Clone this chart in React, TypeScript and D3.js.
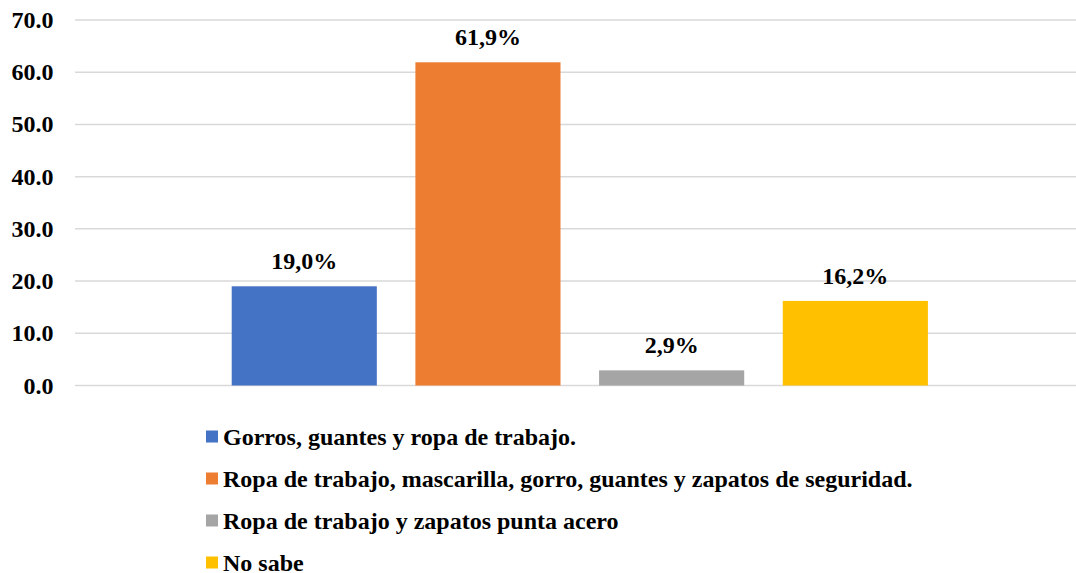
import React from "react";
import * as d3 from "d3";

const categories = [
  "Gorros, guantes y ropa de trabajo.",
  "Ropa de trabajo, mascarilla, gorro, guantes y zapatos de seguridad.",
  "Ropa de trabajo y zapatos punta acero",
  "No sabe",
];
const values = [19.0, 61.9, 2.9, 16.2];
const valueLabels = ["19,0%", "61,9%", "2,9%", "16,2%"];
const colors = ["#4472C4", "#ED7D31", "#A5A5A5", "#FFC000"];
const yTicks = [0, 10, 20, 30, 40, 50, 60, 70];

const W = 1076;
const H = 573;
const FONT = "'Liberation Serif', 'Times New Roman', Times, serif";
const FS = 24;

export default function App() {
  const y = d3.scaleLinear().domain([0, 70]).range([385.5, 20]);
  const x = d3
    .scaleBand<string>()
    .domain(categories)
    .range([231.7, 927.9])
    .paddingInner(0.21)
    .paddingOuter(0);
  const gridX0 = 75;
  const gridX1 = 1076;
  const legendY0 = 436.5;
  const legendStep = 42;

  return (
    <div style={{ position: "absolute", left: 0, top: 0, width: W, height: H }}>
      <svg width={W} height={H} style={{ display: "block", background: "#fff" }}>
        {yTicks.map((t) => (
          <g key={t}>
            <line x1={gridX0} x2={gridX1} y1={y(t)} y2={y(t)} stroke="#d9d9d9" strokeWidth={1.5} />
            <text
              x={53.5}
              y={y(t) + 8}
              textAnchor="end"
              fontFamily={FONT}
              fontWeight="bold"
              fontSize={FS}
              fill="#000"
            >
              {t.toFixed(1)}
            </text>
          </g>
        ))}
        {categories.map((c, i) => {
          const bx = x(c) as number;
          const bw = x.bandwidth();
          return (
            <g key={c}>
              <rect x={bx} y={y(values[i])} width={bw} height={y(0) - y(values[i])} fill={colors[i]} />
              <text
                x={bx + bw / 2}
                y={y(values[i]) - 17}
                textAnchor="middle"
                fontFamily={FONT}
                fontWeight="bold"
                fontSize={FS}
                fill="#000"
              >
                {valueLabels[i]}
              </text>
            </g>
          );
        })}
        {categories.map((c, i) => {
          const cy = legendY0 + i * legendStep;
          return (
            <g key={"lg" + i}>
              <rect x={206} y={cy - 6} width={12} height={12} fill={colors[i]} />
              <text x={223} y={cy + 8} fontFamily={FONT} fontWeight="bold" fontSize={FS} fill="#000">
                {c}
              </text>
            </g>
          );
        })}
      </svg>
    </div>
  );
}
